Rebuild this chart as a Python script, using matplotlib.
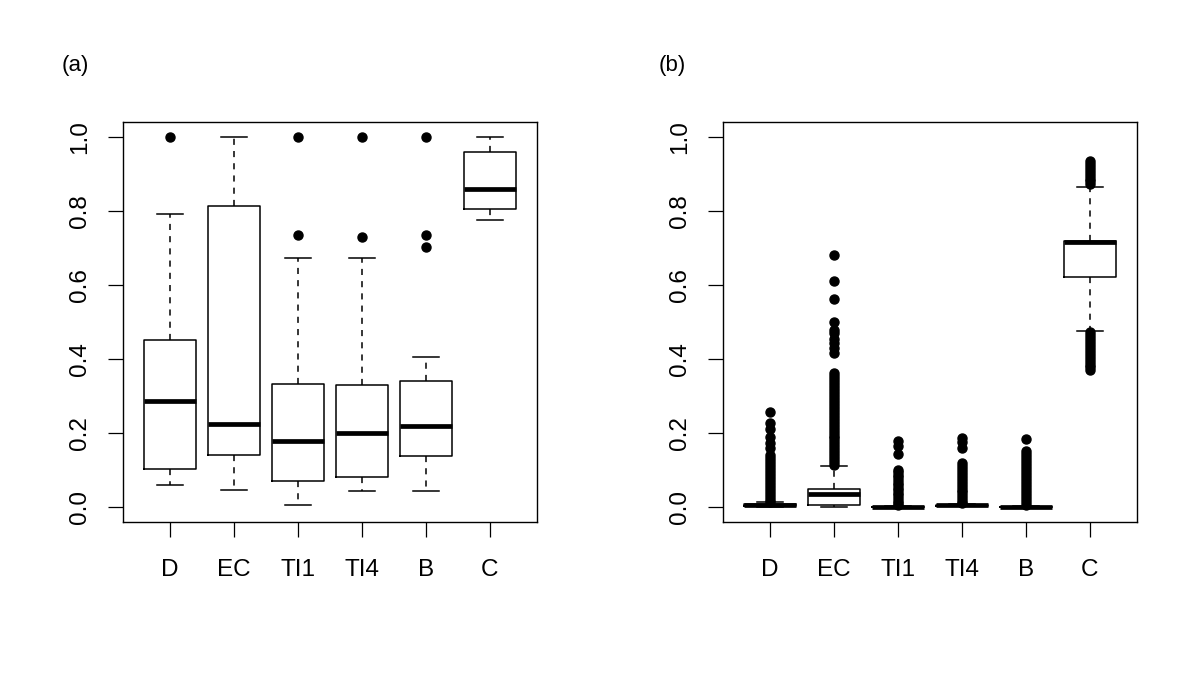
import numpy as np
import matplotlib.pyplot as plt

plt.rcParams['font.family'] = ['Liberation Sans', 'DejaVu Sans']

labels = ["D", "EC", "TI1", "TI4", "B", "C"]

# panel (a): five-number summaries
a_whislo = [0.058, 0.046, 0.005, 0.042, 0.042, 0.775]
a_q1 = [0.102, 0.140, 0.069, 0.080, 0.139, 0.806]
a_med = [0.287, 0.225, 0.179, 0.201, 0.219, 0.860]
a_q3 = [0.451, 0.815, 0.333, 0.330, 0.340, 0.960]
a_whishi = [0.792, 1.000, 0.674, 0.672, 0.406, 1.000]
a_fliers = [
    [1.0],
    [],
    [1.0, 0.734],
    [1.0, 0.729],
    [1.0, 0.736, 0.702],
    [],
]

# panel (b)
b_whislo = [0.000, 0.000, 0.000, 0.002, 0.000, 0.477]
b_q1 = [0.003, 0.0045, 0.000, 0.003, 0.000, 0.623]
b_med = [0.005, 0.034, 0.000, 0.0045, 0.000, 0.715]
b_q3 = [0.007, 0.048, 0.001, 0.006, 0.001, 0.718]
b_whishi = [0.012, 0.111, 0.002, 0.008, 0.002, 0.864]
b_fliers = [
    [0.257, 0.226, 0.21, 0.19, 0.172, 0.158, 0.14, 0.131, 0.123, 0.115,
     0.107, 0.099, 0.091, 0.083, 0.075, 0.067, 0.059, 0.051, 0.043, 0.035,
     0.027, 0.02, 0.014],
    [0.68, 0.612, 0.563, 0.501, 0.479, 0.47, 0.455, 0.443, 0.43, 0.416,
     0.361, 0.353, 0.345, 0.337, 0.329, 0.321, 0.313, 0.305, 0.297, 0.289,
     0.281, 0.273, 0.265, 0.257, 0.249, 0.241, 0.233, 0.225, 0.217, 0.209,
     0.201, 0.193, 0.185, 0.177, 0.169, 0.161, 0.153, 0.145, 0.137, 0.129,
     0.121, 0.114],
    [0.177, 0.164, 0.143, 0.101, 0.094, 0.087, 0.08, 0.073, 0.066, 0.059,
     0.052, 0.045, 0.038, 0.031, 0.024, 0.017, 0.01, 0.004],
    [0.185, 0.175, 0.159, 0.119, 0.111, 0.103, 0.095, 0.087, 0.079, 0.071,
     0.063, 0.055, 0.047, 0.039, 0.031, 0.023, 0.015, 0.01],
    [0.183, 0.150, 0.142, 0.134, 0.126, 0.118, 0.11, 0.102, 0.094, 0.086,
     0.078, 0.07, 0.062, 0.054, 0.046, 0.038, 0.03, 0.022, 0.014, 0.006],
    [0.935, 0.928, 0.92, 0.912, 0.904, 0.896, 0.888, 0.88, 0.872,
     0.473, 0.465, 0.457, 0.449, 0.441, 0.433, 0.425, 0.417, 0.409, 0.401,
     0.393, 0.385, 0.377, 0.37],
]


def stats(whislo, q1, med, q3, whishi, fliers):
    out = []
    for i in range(len(labels)):
        out.append(dict(whislo=whislo[i], q1=q1[i], med=med[i], q3=q3[i],
                        whishi=whishi[i], fliers=fliers[i], label=labels[i]))
    return out


def draw(ax, st):
    ax.bxp(st, widths=0.8, showfliers=True, patch_artist=False,
           boxprops=dict(color="black", linewidth=1.1),
           medianprops=dict(color="black", linewidth=3.4,
                            solid_capstyle="butt"),
           whiskerprops=dict(color="black", linewidth=1.1,
                             linestyle=(0, (4, 4))),
           capprops=dict(color="black", linewidth=1.1),
           capwidths=0.4,
           flierprops=dict(marker="o", markerfacecolor="black",
                           markeredgecolor="black", markersize=6.5,
                           linestyle="none"))
    ax.set_xlim(0.26, 6.74)
    ax.set_ylim(-0.04, 1.04)
    ax.set_yticks([0.0, 0.2, 0.4, 0.6, 0.8, 1.0])
    ax.set_yticklabels(["0.0", "0.2", "0.4", "0.6", "0.8", "1.0"],
                       rotation=90, va="center")
    ax.tick_params(axis="both", length=11, width=0.9, labelsize=17.5,
                   direction="out")
    ax.tick_params(axis="y", pad=12)
    ax.tick_params(axis="x", pad=16)
    for s in ax.spines.values():
        s.set_linewidth(1.0)


fig = plt.figure(figsize=(12, 6.75), dpi=100)
ax1 = fig.add_axes([0.1022, 0.2271, 0.3456, 0.5917])
ax2 = fig.add_axes([0.6022, 0.2271, 0.3456, 0.5917])

draw(ax1, stats(a_whislo, a_q1, a_med, a_q3, a_whishi, a_fliers))
draw(ax2, stats(b_whislo, b_q1, b_med, b_q3, b_whishi, b_fliers))

fig.text(75 / 1200, 1 - 65 / 675, "(a)", fontsize=16, ha="center", va="center")
fig.text(672 / 1200, 1 - 65 / 675, "(b)", fontsize=16, ha="center", va="center")

fig.savefig("out.png", dpi=100, facecolor="white")
